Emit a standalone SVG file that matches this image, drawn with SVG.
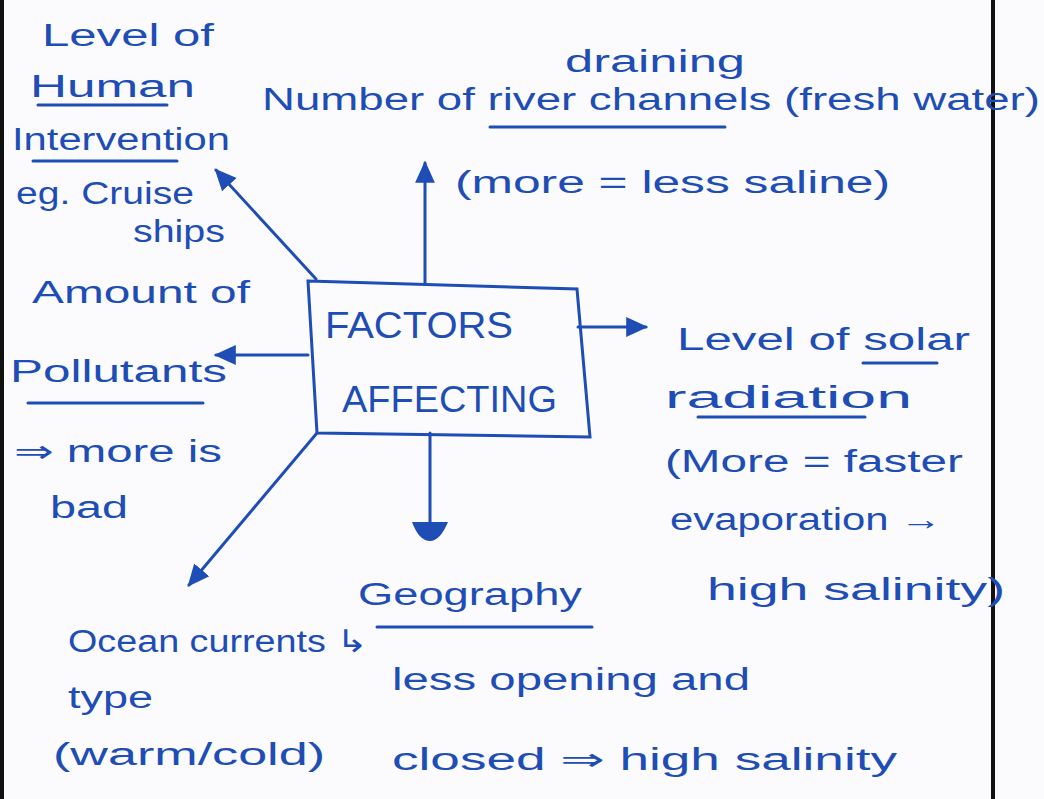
<svg xmlns="http://www.w3.org/2000/svg" width="1044" height="799" viewBox="0 0 1044 799">
<defs>
<style>
.ink{fill:#1d4db5;font-family:"Liberation Sans","DejaVu Sans",sans-serif;font-size:31px;}
.cap{font-size:36px;}
.ul{stroke:#1d4db5;stroke-width:3;stroke-linecap:round;fill:none;}
.con{stroke:#1d4db5;stroke-width:3;fill:none;stroke-linecap:round;}
.margin{stroke:#111;stroke-width:4;}
</style>
<marker id="ah" viewBox="0 0 20 20" refX="18" refY="10" markerWidth="22" markerHeight="22" markerUnits="userSpaceOnUse" orient="auto">
<path d="M0,1 L20,10 L0,19 Z" fill="#1d4db5"/>
</marker>
</defs>
<rect x="0" y="0" width="1044" height="799" fill="#fbfbfd"/>
<line class="margin" x1="2" y1="0" x2="2" y2="799"/>
<line class="margin" x1="993" y1="0" x2="993" y2="799"/>

<g id="connectors">
<line class="con" x1="316" y1="279" x2="216" y2="170" marker-end="url(#ah)"/>
<line class="con" x1="425" y1="283" x2="425" y2="163" marker-end="url(#ah)"/>
<line class="con" x1="308" y1="355" x2="216" y2="355" marker-end="url(#ah)"/>
<line class="con" x1="578" y1="327" x2="646" y2="327" marker-end="url(#ah)"/>
<line class="con" x1="430" y1="433" x2="430" y2="524"/>
<path d="M412,522 L448,522 Q440,541 430,541 Q419,541 412,522 Z" fill="#1d4db5"/>
<line class="con" x1="317" y1="433" x2="189" y2="585" marker-end="url(#ah)"/>
</g>

<g id="center">
<path class="con" d="M308,281 L577,289 L590,437 L317,433 Z"/>
<text class="ink cap" x="325" y="338" textLength="188" lengthAdjust="spacingAndGlyphs">FACTORS</text>
<text class="ink cap" x="342" y="412" textLength="215" lengthAdjust="spacingAndGlyphs">AFFECTING</text>
</g>

<g id="human">
<text class="ink" x="42" y="46" textLength="172" lengthAdjust="spacingAndGlyphs">Level of</text>
<text class="ink" x="30" y="97" textLength="165" lengthAdjust="spacingAndGlyphs">Human</text>
<line class="ul" x1="38" y1="105" x2="167" y2="105"/>
<text class="ink" x="12" y="150" textLength="218" lengthAdjust="spacingAndGlyphs">Intervention</text>
<line class="ul" x1="33" y1="161" x2="177" y2="161"/>
<text class="ink" x="16" y="204" textLength="178" lengthAdjust="spacingAndGlyphs">eg. Cruise</text>
<text class="ink" x="133" y="242" textLength="92" lengthAdjust="spacingAndGlyphs">ships</text>
</g>

<g id="river">
<text class="ink" x="565" y="72" textLength="180" lengthAdjust="spacingAndGlyphs">draining</text>
<text class="ink" x="262" y="110" textLength="778" lengthAdjust="spacingAndGlyphs">Number of river channels (fresh water)</text>
<line class="ul" x1="490" y1="127" x2="725" y2="127"/>
<text class="ink" x="455" y="193" textLength="435" lengthAdjust="spacingAndGlyphs">(more = less saline)</text>
</g>

<g id="pollutants">
<text class="ink" x="32" y="303" textLength="218" lengthAdjust="spacingAndGlyphs">Amount of</text>
<text class="ink" x="10" y="382" textLength="217" lengthAdjust="spacingAndGlyphs">Pollutants</text>
<line class="ul" x1="28" y1="403" x2="203" y2="403"/>
<text class="ink" x="14" y="462" textLength="208" lengthAdjust="spacingAndGlyphs">⇒ more is</text>
<text class="ink" x="50" y="518" textLength="78" lengthAdjust="spacingAndGlyphs">bad</text>
</g>

<g id="solar">
<text class="ink" x="677" y="350" textLength="293" lengthAdjust="spacingAndGlyphs">Level of solar</text>
<line class="ul" x1="863" y1="363" x2="937" y2="363"/>
<text class="ink" x="665" y="408" textLength="247" lengthAdjust="spacingAndGlyphs">radiation</text>
<line class="ul" x1="698" y1="417" x2="865" y2="417"/>
<text class="ink" x="665" y="472" textLength="298" lengthAdjust="spacingAndGlyphs">(More = faster</text>
<text class="ink" x="670" y="530" textLength="272" lengthAdjust="spacingAndGlyphs">evaporation →</text>
<text class="ink" x="707" y="600" textLength="298" lengthAdjust="spacingAndGlyphs">high salinity)</text>
</g>

<g id="geography">
<text class="ink" x="358" y="605" textLength="224" lengthAdjust="spacingAndGlyphs">Geography</text>
<line class="ul" x1="377" y1="627" x2="592" y2="627"/>
<text class="ink" x="392" y="690" textLength="358" lengthAdjust="spacingAndGlyphs">less opening and</text>
<text class="ink" x="392" y="770" textLength="505" lengthAdjust="spacingAndGlyphs">closed ⇒ high salinity</text>
</g>

<g id="ocean">
<text class="ink" x="68" y="652" textLength="300" lengthAdjust="spacingAndGlyphs">Ocean currents ↳</text>
<text class="ink" x="68" y="708" textLength="85" lengthAdjust="spacingAndGlyphs">type</text>
<text class="ink" x="53" y="765" textLength="272" lengthAdjust="spacingAndGlyphs">(warm/cold)</text>
</g>
</svg>
